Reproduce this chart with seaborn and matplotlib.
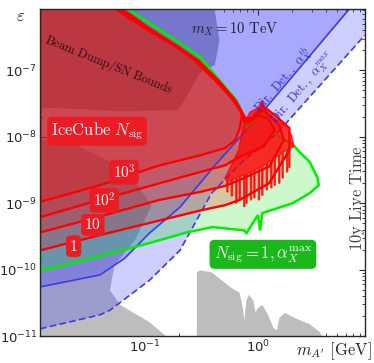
import numpy as np
import matplotlib
matplotlib.use("Agg")
import matplotlib.pyplot as plt
import seaborn as sns

# All boundaries, stored as log10(m_A' / GeV) and log10(epsilon)

# beam dump bound (upper left) and SN bound (lower left)
bd_logm = [-1.93, -0.40, -0.34, -0.38, -0.51, -0.65, -0.71, -1.22, -1.75, -1.93]
bd_loge = [-5.90, -5.90, -6.55, -6.92, -7.03, -7.45, -7.60, -7.62, -7.57, -7.57]
sn_logm = [-1.93, -1.64, -1.34, -1.09, -0.94, -1.09, -1.27, -1.31, -1.22, -0.96, -0.78, -1.93]
sn_loge = [-8.05, -8.10, -8.35, -8.68, -9.03, -9.56, -9.93, -10.31, -10.53, -10.79, -11.05, -11.05]
# other bound, lower right
lr_logm = [-0.54, -0.54, -0.51, -0.41, -0.32, -0.23, -0.16, -0.13, -0.12, -0.10, -0.08, -0.04,
           -0.02, 0.00, 0.04, 0.09, 0.14, 0.17, 0.19, 0.24, 0.33, 0.46, 0.55, 0.58]
lr_loge = [-11.05, -10.04, -10.01, -10.04, -10.16, -10.28, -10.35, -10.61, -10.76, -10.46, -10.38,
           -10.46, -10.64, -10.58, -10.53, -10.68, -10.88, -10.91, -10.73, -10.65, -10.73, -10.82,
           -10.94, -11.05]

# direct detection lines
ddth_logm = [-1.93, -1.40, -1.18, -0.96, -0.69, -0.38, 0.04, 0.81, 0.90]
ddth_loge = [-10.26, -10.08, -9.83, -9.45, -9.06, -8.43, -7.63, -6.08, -5.90]
ddmax_logm = [-1.93, -1.40, -1.31, -0.96, -0.69, -0.41, -0.12, 0.17, 0.95]
ddmax_loge = [-10.89, -10.68, -10.61, -10.16, -9.71, -8.85, -8.35, -7.95, -6.47]

# N_sig = 1 with alpha_X^max (green)
gr_logm = [-1.93, -1.40, -0.96, -0.63, -0.40, -0.12, -0.10, 0.00, 0.02, 0.04, 0.31, 0.46, 0.54,
           0.53, 0.46, 0.37, 0.30, 0.19, 0.13, 0.04, -0.01, -0.10, -0.14, -0.19, -0.34, -0.51,
           -0.69, -1.15, -1.31, -1.93]
gr_loge = [-10.02, -9.80, -9.60, -9.44, -9.36, -9.41, -9.45, -9.18, -9.41, -9.15, -9.00, -8.85,
           -8.73, -8.62, -8.38, -8.23, -8.10, -8.01, -7.86, -7.60, -7.72, -7.86, -7.63, -7.45,
           -7.15, -6.80, -6.59, -6.08, -5.90, -5.90]

# IceCube N_sig contours (1, 10, 10^2, 10^3)
c1_logm = [-1.93, -1.40, -0.87, -0.51, -0.29, -0.16, 0.10, 0.28, 0.28, 0.16, 0.04, -0.05, -0.11,
           -0.16, -0.20, -0.35, -0.53, -0.71, -0.96, -1.20, -1.36, -1.93]
c1_loge = [-9.71, -9.48, -9.26, -9.11, -9.03, -8.95, -8.70, -8.20, -7.87, -7.69, -7.53, -7.72,
           -7.72, -7.57, -7.45, -7.15, -6.85, -6.64, -6.37, -6.08, -5.90, -5.90]
c10_logm = [-1.93, -1.40, -0.87, -0.51, -0.29, -0.16, 0.10, 0.23, 0.19, 0.11, 0.04, -0.05, -0.12,
            -0.16, -0.21, -0.36, -0.54, -0.72, -0.97, -1.22, -1.38, -1.93]
c10_loge = [-9.44, -9.20, -8.95, -8.83, -8.74, -8.65, -8.45, -8.05, -7.83, -7.69, -7.60, -7.75,
            -7.78, -7.57, -7.45, -7.15, -6.85, -6.64, -6.37, -6.08, -5.90, -5.90]
c100_logm = [-1.93, -1.40, -0.87, -0.51, -0.29, -0.16, 0.05, 0.15, 0.09, 0.00, -0.09, -0.16,
             -0.22, -0.37, -0.55, -0.73, -0.99, -1.24, -1.40, -1.93]
c100_loge = [-9.21, -8.95, -8.70, -8.53, -8.43, -8.30, -8.15, -7.90, -7.72, -7.68, -7.78, -7.60,
             -7.45, -7.15, -6.85, -6.64, -6.37, -6.08, -5.90, -5.90]
c1000_logm = [-1.93, -1.40, -0.87, -0.51, -0.29, -0.20, -0.16, -0.14, -0.18, -0.23, -0.38, -0.56,
              -0.73, -1.00, -1.26, -1.42, -1.93]
c1000_loge = [-8.98, -8.73, -8.43, -8.28, -8.17, -8.05, -7.87, -7.68, -7.51, -7.42, -7.15, -6.85,
              -6.64, -6.37, -6.08, -5.90, -5.90]

# resonance region: top edge and the spikes hanging below it
res_top_logm = [-0.29, -0.17, -0.13, -0.07, 0.00, 0.04, 0.07, 0.15, 0.24, 0.30, 0.32]
res_top_loge = [-8.62, -8.20, -7.83, -7.63, -7.57, -7.45, -7.60, -7.72, -7.83, -7.98, -8.15]
spike_logm = [-0.27, -0.23, -0.19, -0.16, -0.12, -0.10, -0.06, -0.03, 0.01, 0.04, 0.08, 0.12,
              0.15, 0.19, 0.22, 0.26, 0.28]
spike_base_loge = [-8.68, -8.65, -8.62, -8.59, -8.58, -8.56, -8.53, -8.50, -8.47, -8.44, -8.40,
                   -8.35, -8.32, -8.28, -8.23, -8.20, -8.17]
spike_tip_loge = [-8.83, -8.89, -9.00, -8.95, -9.05, -9.00, -8.95, -8.92, -8.95, -8.88, -8.80,
                  -8.77, -8.73, -8.70, -8.62, -8.53, -8.46]

contours = [(c1_logm, c1_loge), (c10_logm, c10_loge), (c100_logm, c100_loge), (c1000_logm, c1000_loge)]
contour_labels = ["$1$", "$10$", "$10^2$", "$10^3$"]
contour_label_pos = [(0.0233, 2.25e-10), (0.0345, 4.7e-10), (0.0436, 1.1e-9), (0.0652, 2.92e-9)]

x_ticks = [0.1, 1.0]
y_ticks = [1e-11, 1e-10, 1e-9, 1e-8, 1e-7]

sns.set_style("ticks")
plt.rcParams["font.family"] = ["DejaVu Sans"]

fig = plt.figure(figsize=(3.74, 3.63), dpi=100)
ax = fig.add_axes([0.107, 0.074, 0.869, 0.901])
ax.set_xscale("log")
ax.set_yscale("log")


def p(a):
    return 10 ** np.array(a)


# excluded regions
ax.fill(p(bd_logm), p(bd_loge), color="#a9a9a9", lw=0, zorder=1)
ax.fill(p(sn_logm), p(sn_loge), color="#bdbdbd", lw=0, zorder=1)
ax.fill(p(lr_logm), p(lr_loge), color="#bdbdbd", lw=0, zorder=1)

# direct detection regions
ax.fill(p(ddmax_logm + [0.95, -1.93]), p(ddmax_loge + [-5.9, -5.9]),
        color="#3333ff", alpha=0.24, lw=0, zorder=2)
ax.fill(p(ddth_logm + [-1.93]), p(ddth_loge + [-5.9]),
        color="#3333ff", alpha=0.24, lw=0, zorder=2)
sns.lineplot(x=p(ddth_logm), y=p(ddth_loge), sort=False, estimator=None, ax=ax,
             color="#3c3ce6", lw=1.2, zorder=5)
sns.lineplot(x=p(ddmax_logm), y=p(ddmax_loge), sort=False, estimator=None, ax=ax,
             color="#3c3ce6", lw=1.2, linestyle=(0, (4, 2)), zorder=5)

# green region
ax.fill(p(gr_logm), p(gr_loge), facecolor="#00dd00", alpha=0.2, lw=0, zorder=3)
ax.fill(p(gr_logm), p(gr_loge), facecolor="none", edgecolor="#00ee00", lw=1.8, zorder=6)

# IceCube contours
for cm, ce in contours:
    ax.fill(p(cm), p(ce), facecolor="#ff0000", alpha=0.2, lw=0, zorder=4)
for cm, ce in contours:
    ax.fill(p(cm), p(ce), facecolor="none", edgecolor="#ff0000", lw=1.7, zorder=7)

# resonance spikes
w = 0.005
res_m, res_e = list(res_top_logm), list(res_top_loge)
for sm, sb, st in zip(spike_logm[::-1], spike_base_loge[::-1], spike_tip_loge[::-1]):
    res_m += [sm + w, sm + w, sm - w, sm - w]
    res_e += [sb, st, st, sb]
ax.fill(p(res_m), p(res_e), facecolor="#ff0000", alpha=0.72, edgecolor="#ff0000", lw=1.0, zorder=7)

cm_font = dict(math_fontfamily="cm")
box_red = dict(boxstyle="round,pad=0.22,rounding_size=0.3", fc="#ec1c24", ec="none")
for lab, (x, y) in zip(contour_labels, contour_label_pos):
    ax.text(x, y, lab, color="white", fontsize=11, ha="center", va="center",
            bbox=box_red, zorder=9, **cm_font)
ax.text(0.0376, 1.21e-8, r"$\mathrm{IceCube}\ N_{\rm sig}$", color="white", fontsize=12,
        ha="center", va="center", bbox=box_red, zorder=9, **cm_font)
ax.text(1.11, 1.7e-10, r"$N_{\rm sig}=1,\alpha_X^{\rm max}$", color="white", fontsize=12,
        ha="center", va="center", zorder=9,
        bbox=dict(boxstyle="round,pad=0.25,rounding_size=0.3", fc="#1ab81a", ec="none"), **cm_font)
ax.text(0.048, 1.23e-7, r"$\mathrm{Beam\ Dump/SN\ Bounds}$", color="#2a0e12", fontsize=9,
        rotation=-22, ha="center", va="center", zorder=8, **cm_font)
ax.text(0.625, 4.2e-7, r"$m_X=10\ \mathrm{TeV}$", color="#202020", fontsize=10.5,
        ha="center", va="center", zorder=9, **cm_font)
ax.text(1.66, 7.1e-8, r"$\mathrm{Dir.\ Det.,}\ \alpha_X^{th}$", color="#2f2fd0", fontsize=9,
        rotation=49.5, ha="center", va="center", zorder=9, **cm_font)
ax.text(2.5, 5.4e-8, r"$\mathrm{Dir.\ Det.,}\ \alpha_X^{max}$", color="#2f2fd0", fontsize=9,
        rotation=49.5, ha="center", va="center", zorder=9, **cm_font)
ax.text(7.6, 1.2e-9, r"$10\mathrm{y\ Live\ Time}$", color="#404040", fontsize=12,
        rotation=90, ha="center", va="center", zorder=9, **cm_font)

ax.set_xlim(10 ** -1.93, 10 ** 0.95)
ax.set_ylim(1e-11, 10 ** -6.08)
ax.set_xticks(x_ticks)
ax.set_yticks(y_ticks)
ax.set_xlabel("")
ax.set_ylabel("")
fig.text(0.055, 0.955, r"$\varepsilon$", fontsize=12, ha="center", va="center", **cm_font)
fig.text(0.893, 0.033, r"$m_{A'}\ [\mathrm{GeV}]$", fontsize=12, ha="center", va="center", **cm_font)

ax.tick_params(which="both", direction="in", top=True, right=True, labelsize=9.5, pad=2)
ax.tick_params(which="major", length=4, width=0.8)
ax.tick_params(which="minor", length=2, width=0.6)
for s in ax.spines.values():
    s.set_linewidth(1.0)
    s.set_zorder(10)

fig.savefig("out.png", dpi=100)
